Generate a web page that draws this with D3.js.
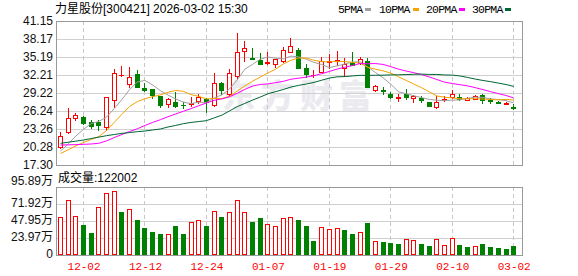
<!DOCTYPE html>
<html><head><meta charset="utf-8">
<script src="https://cdn.jsdelivr.net/npm/d3@7"></script>
<style>body{margin:0;background:#fff}svg{display:block}</style>
</head><body>
<svg id="c" width="578" height="276"></svg>
<script>
const dates = ["11-27","11-28","12-01","12-02","12-03","12-04","12-05","12-08","12-09","12-10","12-11","12-12","12-15","12-16","12-17","12-18","12-19","12-22","12-23","12-24","12-25","12-26","12-29","12-30","12-31","01-05","01-06","01-07","01-08","01-09","01-12","01-13","01-14","01-15","01-16","01-19","01-20","01-21","01-22","01-23","01-26","01-27","01-28","01-29","01-30","02-02","02-03","02-04","02-05","02-06","02-09","02-10","02-11","02-12","02-13","02-24","02-25","02-26","02-27","03-02"];
const openP = [20.34,22.82,25.14,25.30,24.48,24.48,23.65,28.12,32.15,30.77,32.32,30.05,29.83,28.73,27.46,27.68,27.24,27.40,27.84,28.18,27.24,30.83,29.00,32.10,36.24,35.02,34.69,34.19,33.97,34.58,36.07,36.35,33.31,32.15,32.76,34.36,34.52,33.42,34.25,34.14,34.52,29.78,29.78,29.11,28.34,29.00,28.45,28.45,27.68,26.85,28.07,28.51,28.62,28.12,28.29,28.95,28.01,27.79,27.46,26.96];
const highP = [22.71,26.68,25.86,25.35,24.75,24.75,28.62,33.14,33.70,33.59,33.03,30.83,29.90,28.80,28.45,29.34,27.79,28.51,29.00,28.45,32.59,31.10,33.14,39.11,37.89,36.73,35.90,36.07,34.90,36.90,38.28,36.73,33.97,33.03,35.24,35.68,36.13,35.08,35.96,35.13,35.08,30.55,30.22,29.34,29.00,29.83,28.89,28.67,27.70,28.78,28.67,29.72,29.06,28.62,28.95,29.11,28.34,27.84,27.79,27.46];
const lowP = [20.17,22.54,24.75,24.03,23.37,23.10,23.10,26.96,32.10,30.27,30.16,29.61,28.34,26.91,26.96,26.96,26.79,27.02,27.62,26.13,27.13,29.06,28.89,31.54,34.58,34.86,33.97,33.97,33.59,34.36,36.02,33.37,31.93,31.88,32.70,33.31,33.92,32.04,33.81,33.97,30.16,29.50,29.11,28.34,27.90,28.18,27.79,27.68,27.05,26.68,27.95,28.45,28.07,28.07,28.18,27.62,27.57,27.57,27.40,26.57];
const closeP = [22.16,25.03,25.53,24.31,23.81,23.92,28.62,32.59,32.21,31.93,30.27,29.78,28.89,27.24,28.18,27.13,27.18,27.57,28.51,27.79,30.94,29.72,32.48,35.96,36.73,34.91,34.03,34.36,34.86,36.35,37.06,33.42,32.37,32.26,34.58,34.58,34.75,33.97,33.86,34.80,30.16,30.33,29.61,28.56,28.51,28.51,28.67,28.07,27.07,27.79,28.18,29.11,28.23,28.45,28.67,28.07,27.84,27.62,27.62,26.79];
const volume = [53.1,77.1,54.5,42.3,31.0,67.2,87.0,89.8,60.6,64.9,49.4,38.5,32.4,29.6,29.1,40.9,29.6,46.1,48.9,40.9,61.6,53.6,60.2,77.6,60.2,46.5,52.2,43.2,40.4,51.7,53.1,49.4,40.9,19.7,39.0,36.2,37.6,35.3,29.6,32.0,45.1,19.3,18.3,16.5,15.5,22.6,20.7,15.5,12.7,22.6,14.1,24.0,14.1,11.3,12.7,15.5,11.3,9.9,8.5,12.2];
const volUp = [1,1,1,0,0,1,1,1,0,1,0,0,0,0,1,0,0,1,1,0,1,0,1,1,1,0,0,1,1,1,1,0,0,0,1,1,1,0,0,1,0,1,0,0,0,1,1,0,0,1,1,1,0,0,1,0,0,0,0,0];
const ma5 = [19.60,20.80,22.10,23.20,24.17,24.52,25.24,26.65,28.15,29.80,31.05,31.30,30.55,29.62,28.87,28.24,27.72,27.46,27.71,27.64,28.40,28.91,29.89,31.38,33.17,33.96,34.82,35.20,34.98,34.90,35.33,35.21,34.81,34.29,33.94,33.44,33.71,34.03,34.35,34.39,33.51,32.62,31.75,30.69,29.43,29.10,28.77,28.46,28.17,28.02,27.96,28.04,28.08,28.35,28.53,28.51,28.25,28.13,27.96,27.59];
const ma10 = [19.20,19.82,20.48,21.03,21.52,22.02,23.00,24.37,25.70,27.00,27.80,28.28,28.62,28.90,29.35,29.65,29.50,28.95,28.67,28.25,28.32,28.32,28.67,29.55,30.40,31.18,31.86,32.54,33.18,34.03,34.65,35.02,35.01,34.64,34.42,34.39,34.46,34.42,34.32,34.17,33.48,33.17,32.89,32.52,31.91,31.31,30.70,30.11,29.43,28.73,28.53,28.41,28.27,28.26,28.28,28.23,28.15,28.10,28.16,28.06];
const ma20 = [20.61,20.64,20.68,20.72,20.78,20.90,21.30,21.85,22.35,22.85,23.30,23.85,24.35,24.80,25.30,25.75,26.20,26.64,27.12,27.57,28.01,28.24,28.59,29.17,29.82,30.37,30.64,30.73,30.94,31.16,31.50,31.68,31.85,32.10,32.42,32.80,33.18,33.50,33.76,34.11,34.07,34.10,33.96,33.59,33.18,32.86,32.59,32.28,31.89,31.46,31.02,30.80,30.60,30.41,30.11,29.79,29.44,29.12,28.81,28.41];
const ma30 = [20.89,21.07,21.25,21.44,21.68,21.92,22.16,22.35,22.54,22.68,22.82,22.93,23.10,23.26,23.60,23.85,24.15,24.35,24.50,24.64,25.10,25.55,26.25,26.96,27.50,28.05,28.55,29.10,29.45,29.80,30.21,30.49,30.71,30.98,31.34,31.69,31.90,31.94,32.05,32.15,32.14,32.16,32.18,32.23,32.24,32.28,32.33,32.35,32.30,32.30,32.21,32.19,32.05,31.80,31.53,31.30,31.10,30.87,30.63,30.31];
const priceTicks = [41.15,38.17,35.19,32.21,29.22,26.24,23.26,20.28,17.30];
const volTicks = [95.89,71.92,47.95,23.97,0];
const volTickLabels = ["95.89万","71.92万","47.95万","23.97万","0"];
const dateTicks = ["12-02","12-12","12-24","01-07","01-19","01-29","02-10","03-02"];
const titleText = "力星股份[300421] 2026-03-02 15:30";
const volTitle = "成交量:122002";
const maNames = ["5PMA","10PMA","20PMA","30PMA"];
const maColors = ["#a0a0a0","#f5a300","#ff00ff","#006633"];

const svg = d3.select("#c");
const L = 56, R = 522, PT = 21, PB = 165, VT = 187, VB = 255;
const UP = "#ff0000", DN = "#008000";
const x = d3.scalePoint().domain(dates).range([60, 513.2]);
const y = d3.scaleLinear().domain([17.30, 41.15]).range([PB, PT]);
const yv = d3.scaleLinear().domain([0, 95.89]).range([VB, VT]);
const cx = d => Math.round(x(d));
const sans = "'Liberation Sans','Noto Sans CJK SC',sans-serif";

// watermark
svg.append("text").attr("x", 222).attr("y", 108).attr("font-family", "'Noto Sans CJK SC'")
  .attr("font-weight", 900).attr("font-size", 33).attr("letter-spacing", 6).attr("fill", "#ebebef").text("东方财富");

// grids
function hgrid(scale, ticks) {
  svg.append("g").selectAll("line").data(ticks.slice(1, -1)).join("line")
    .attr("x1", L).attr("x2", R).attr("y1", d => Math.round(scale(d)) + 0.5).attr("y2", d => Math.round(scale(d)) + 0.5)
    .attr("stroke", "#d0d0d0");
}
hgrid(y, priceTicks);
hgrid(yv, volTicks);
[[PT, PB], [VT, VB]].forEach(([t, b]) => {
  svg.append("g").selectAll("line").data(dateTicks).join("line")
    .attr("x1", d => cx(d) + 0.5).attr("x2", d => cx(d) + 0.5).attr("y1", t).attr("y2", b)
    .attr("stroke", "#c8c8c8").attr("stroke-dasharray", "4,3");
});

// candles
const idx = d3.range(dates.length);
const cg = svg.append("g");
idx.forEach(i => {
  const o = openP[i], c = closeP[i], up = c >= o, col = up ? UP : DN, X = cx(dates[i]);
  const top = Math.round(y(Math.max(o, c))), bot = Math.round(y(Math.min(o, c)));
  cg.append("line").attr("x1", X + 0.5).attr("x2", X + 0.5)
    .attr("y1", Math.round(y(highP[i]))).attr("y2", Math.round(y(lowP[i])) + 1).attr("stroke", col);
  if (bot - top < 1) {
    cg.append("rect").attr("x", X - 2).attr("y", top).attr("width", 5).attr("height", 1).attr("fill", col);
  } else if (up) {
    cg.append("rect").attr("x", X - 1.5).attr("y", top + 0.5).attr("width", 4).attr("height", bot - top)
      .attr("fill", "#fff").attr("stroke", col);
  } else {
    cg.append("rect").attr("x", X - 2).attr("y", top).attr("width", 5).attr("height", bot - top + 1).attr("fill", col);
  }
});

// MA lines
[ma5, ma10, ma20, ma30].forEach((arr, k) => {
  svg.append("path").attr("d", d3.line().x((d, i) => x(dates[i]) + 0.5).y(d => y(d))(arr))
    .attr("fill", "none").attr("stroke", maColors[k]).attr("stroke-width", 1);
});

// volume bars
const vg = svg.append("g");
idx.forEach(i => {
  const X = cx(dates[i]), t = Math.round(yv(volume[i]));
  if (volUp[i]) {
    vg.append("rect").attr("x", X - 1.5).attr("y", t + 0.5).attr("width", 4).attr("height", VB - t - 1)
      .attr("fill", "#fff").attr("stroke", UP);
  } else {
    vg.append("rect").attr("x", X - 2).attr("y", t).attr("width", 5).attr("height", VB - t).attr("fill", DN);
  }
});

// borders
svg.append("rect").attr("x", L + 0.5).attr("y", PT + 0.5).attr("width", R - L).attr("height", PB - PT)
  .attr("fill", "none").attr("stroke", "#999");
svg.append("rect").attr("x", L + 0.5).attr("y", VT + 0.5).attr("width", R - L).attr("height", VB - VT)
  .attr("fill", "none").attr("stroke", "#999");

// axes labels
const ay = d3.axisLeft(y).tickValues(priceTicks).tickFormat(d => d.toFixed(2)).tickSize(0).tickPadding(3);
const gy = svg.append("g").attr("transform", `translate(${L},0)`).call(ay);
gy.select(".domain").remove();
gy.selectAll("text").attr("font-family", sans).attr("font-size", 12).attr("fill", "#111");

const av = d3.axisLeft(yv).tickValues(volTicks).tickFormat((d, i) => volTickLabels[i]).tickSize(0).tickPadding(3);
const gv = svg.append("g").attr("transform", `translate(${L},0)`).call(av);
gv.select(".domain").remove();
gv.selectAll("text").attr("font-family", sans).attr("font-size", 12).attr("fill", "#111")
  .attr("dy", (d, i) => i === 0 ? "-0.2em" : "0.2em");

const ax = d3.axisBottom(x).tickValues(dateTicks).tickSize(0).tickPadding(7);
const gx = svg.append("g").attr("transform", `translate(0.5,${VB})`).call(ax);
gx.select(".domain").remove();
gx.selectAll("text").attr("font-family", "'Liberation Mono',monospace").attr("font-size", 11).attr("fill", "#ff0000");

// titles
svg.append("text").attr("x", 55).attr("y", 13).attr("font-family", sans).attr("font-size", 12).attr("fill", "#000").text(titleText);
svg.append("text").attr("x", 58).attr("y", 182).attr("font-family", sans).attr("font-size", 12).attr("fill", "#000").text(volTitle);

// legend
const legX = [338, 379, 426, 472], markX = [365, 413, 459, 505];
maNames.forEach((n, k) => {
  svg.append("text").attr("x", legX[k]).attr("y", 13).attr("font-family", "'Liberation Mono',monospace")
    .attr("font-size", 11.5).attr("letter-spacing", -0.8).attr("fill", "#000").text(n);
  svg.append("rect").attr("x", markX[k]).attr("y", 8).attr("width", 6).attr("height", 3).attr("fill", maColors[k]);
});
</script>
</body></html>
